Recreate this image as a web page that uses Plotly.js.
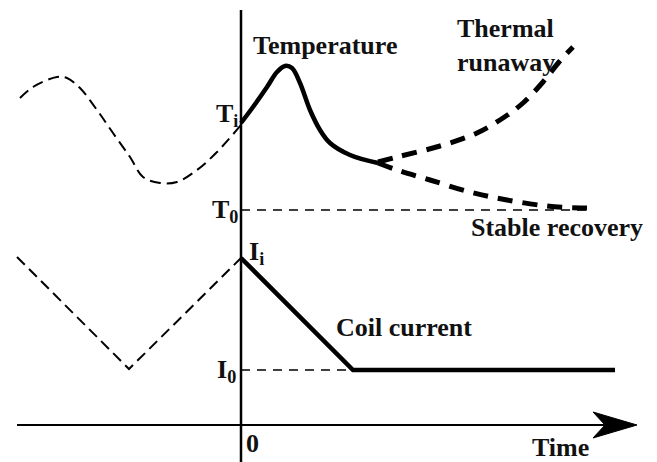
<!DOCTYPE html>
<html><head><meta charset="utf-8">
<script src="https://cdn.plot.ly/plotly-3.0.1.min.js"></script>
<style>html,body{margin:0;padding:0;background:#fff;}</style>
</head><body><div id="chart" style="width:657px;height:462px"></div>
<script>
// Schematic data (time relative to quench start at 0; arbitrary units)
const tempHistT = [-221,-208,-184,-174,-161,-144,-128,-111,-98,-81,-64,-44,-24,0];
const tempHistV = [327,338,348,347,337,315,292,268,248,242,243,255,273,300];
const tempT = [0,12,26,36,44,51,59,69,79,89,109,137];
const tempV = [302,318,338,353,359,357,342,315,295,282,270,262];
const runawayT = [137,156,199,236,262,282,302,318,332];
const runawayV = [263,268,279,292,307,322,343,363,378];
const stableT = [137,156,189,229,266,306,340,356];
const stableV = [262,255,245,233,225,219,217,217];
const T0 = 215, T0end = 350;
const curHistT = [-224,-112,0];
const curHistV = [168,56,167];
const curT = [0,112,374];
const curV = [167,55,55];
const I0 = 55;

const black = '#000';
const traces = [
  {x: tempHistT, y: tempHistV, mode:'lines', line:{color:black,width:2,dash:'11px,6px',shape:'spline'}},
  {x: tempT, y: tempV, mode:'lines', line:{color:black,width:4.5,shape:'spline'}},
  {x: runawayT, y: runawayV, mode:'lines', line:{color:black,width:5,dash:'15px,10px',shape:'spline'}},
  {x: stableT, y: stableV, mode:'lines', line:{color:black,width:5,dash:'15px,10px',shape:'spline'}},
  {x: [0,T0end], y: [T0,T0], mode:'lines', line:{color:black,width:1.5,dash:'9px,7px'}},
  {x: curHistT, y: curHistV, mode:'lines', line:{color:black,width:2,dash:'11px,6px'}},
  {x: curT, y: curV, mode:'lines', line:{color:black,width:4.5}},
  {x: [0,curT[1]], y: [I0,I0], mode:'lines', line:{color:black,width:1.5,dash:'9px,7px'}}
];

function ann(text,x,y,xa,extra){
  return Object.assign({text:'<b>'+text+'</b>',x:x,y:y,xref:'x',yref:'y',showarrow:false,
    xanchor:xa||'center',yanchor:'middle',
    font:{family:'Liberation Serif',size:26,color:'#111'}},extra||{});
}

const layout = {
  width:657, height:462, margin:{l:0,r:0,t:0,b:0},
  paper_bgcolor:'#fff', plot_bgcolor:'#fff', showlegend:false,
  xaxis:{range:[-241,416],visible:false,fixedrange:true},
  yaxis:{range:[-37,425],visible:false,fixedrange:true},
  shapes:[
    {type:'line',xref:'x',yref:'y',x0:0,x1:0,y0:-40,y1:415,line:{color:black,width:2.5}},
    {type:'line',xref:'x',yref:'y',x0:-224,x1:370,y0:0,y1:0,line:{color:black,width:2.2}},
    {type:'path',xref:'x',yref:'y',path:'M 396 0 L 352 13 L 364 0 L 352 -13 Z',fillcolor:black,line:{color:black,width:1}}
  ],
  annotations:[
    ann('Temperature',84,380),
    ann('Thermal<br>runaway',214,380,'left',{align:'left'}),
    ann('Stable recovery',228,198,'left'),
    ann('Coil current',93,98,'left'),
    ann('Time',319,-22),
    ann('0',11,-18),
    ann('T<sub>i</sub>',-1,310,'right'),
    ann('T<sub>0</sub>',-1,214,'right'),
    ann('I<sub>i</sub>',6,172,'left'),
    ann('I<sub>0</sub>',-3,54,'right')
  ]
};
Plotly.newPlot('chart', traces, layout, {displayModeBar:false});
</script></body></html>
